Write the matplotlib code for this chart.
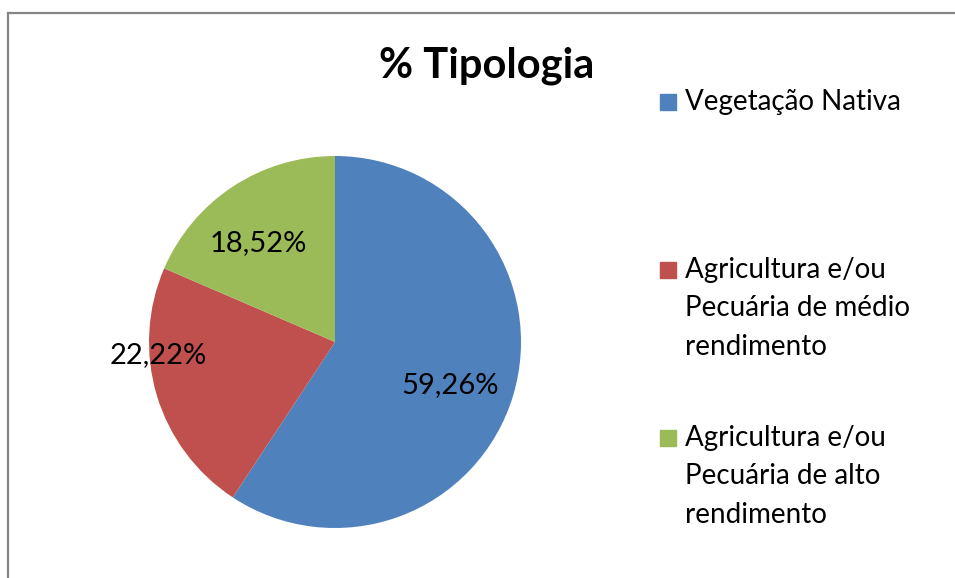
import matplotlib.pyplot as plt
from matplotlib.lines import Line2D
from matplotlib.patches import Rectangle

# Dados
categorias = ['Vegetação Nativa',
              'Agricultura e/ou\nPecuária de médio\nrendimento',
              'Agricultura e/ou\nPecuária de alto\nrendimento']
valores = [59.26, 22.22, 18.52]
cores = ['#4F81BD', '#C0504D', '#9BBB59']
# posicao dos rotulos (fracao do raio)
pos_rotulos = [(0.62, -0.23), (-0.95, -0.07), (-0.41, 0.53)]

plt.rcParams['font.family'] = ['Lato', 'DejaVu Sans']

W, H = 955, 578
fig = plt.figure(figsize=(W / 100, H / 100), dpi=100)

# moldura (so topo e esquerda visiveis)
fig.add_artist(Line2D([8 / W, 1], [1 - 13 / H, 1 - 13 / H], color='#868686', lw=1.6))
fig.add_artist(Line2D([8 / W, 8 / W], [0, 1 - 13 / H], color='#868686', lw=1.6))

cx, cy, r = 335, 342, 186
ax = fig.add_axes([(cx - r) / W, (H - cy - r) / H, 2 * r / W, 2 * r / H])
wedges, _ = ax.pie(valores, colors=cores, startangle=90, counterclock=False,
                   wedgeprops=dict(linewidth=0))
ax.set_xlim(-1, 1)
ax.set_ylim(-1, 1)
ax.set_aspect('auto')

for v, (px, py) in zip(valores, pos_rotulos):
    ax.text(px, py, f'{v:.2f}%'.replace('.', ','), ha='center', va='center',
            fontsize=21, color='black')

fig.text(487 / W, 1 - 66 / H, '% Tipologia', ha='center', va='center',
         fontsize=30, fontweight='bold')

# legenda
ys = [102, 270, 438]
for cat, cor, y in zip(categorias, cores, ys):
    fig.add_artist(Rectangle((660 / W, 1 - (y + 8) / H), 16 / W, 16 / H,
                             color=cor, transform=fig.transFigure))
    for i, linha in enumerate(cat.split('\n')):
        fig.text(685 / W, 1 - (y + i * 38.5) / H, linha, ha='left',
                 va='center', fontsize=20)

fig.savefig('out.png', dpi=100)
